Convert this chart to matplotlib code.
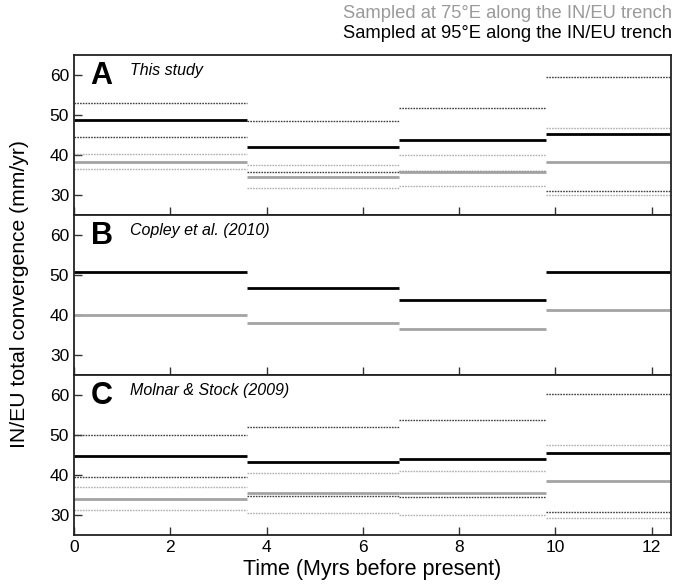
import matplotlib
matplotlib.use("Agg")
import matplotlib.pyplot as plt

plt.rcParams['font.family'] = ['Liberation Sans', 'DejaVu Sans']

# Age boundaries of the stage intervals (Myr)
stages = [0.0, 3.6, 6.75, 9.8, 12.4]

# This study: 95E / 75E means with upper and lower bounds
a_95 = [48.75, 42.0, 43.7, 45.2]
a_95_hi = [52.9, 48.5, 51.75, 59.5]
a_95_lo = [44.6, 35.7, 36.1, 31.1]
a_75 = [38.3, 34.5, 35.7, 38.25]
a_75_hi = [40.3, 37.5, 39.9, 46.8]
a_75_lo = [36.4, 31.8, 32.3, 30.1]

# Copley et al. (2010)
b_95 = [50.75, 46.8, 43.7, 50.7]
b_75 = [40.0, 38.0, 36.4, 41.2]

# Molnar & Stock (2009)
c_95 = [44.8, 43.25, 44.1, 45.4]
c_95_hi = [50.0, 51.9, 53.8, 60.2]
c_95_lo = [39.6, 34.7, 34.5, 30.8]
c_75 = [34.1, 35.5, 35.4, 38.4]
c_75_hi = [37.1, 40.4, 40.9, 47.6]
c_75_lo = [31.3, 30.6, 29.9, 29.3]

panels = [
    ("A", "This study", a_95, a_75, (a_95_hi, a_95_lo), (a_75_hi, a_75_lo)),
    ("B", "Copley et al. (2010)", b_95, b_75, None, None),
    ("C", "Molnar & Stock (2009)", c_95, c_75, (c_95_hi, c_95_lo), (c_75_hi, c_75_lo)),
]

GREY = "#a3a3a3"
fig = plt.figure(figsize=(6.87, 5.87), dpi=100)

left, width = 74 / 687, 597 / 687
h = 160 / 587
tops = [55, 215, 375]

axes = []
for i, (letter, name, m95, m75, b95, b75) in enumerate(panels):
    bottom = 1 - (tops[i] + 160) / 587
    ax = fig.add_axes([left, bottom, width, h])
    axes.append(ax)
    x0 = stages[:-1]
    x1 = stages[1:]
    if b75 is not None:
        for arr in b75:
            ax.hlines(arr, x0, x1, colors="#b0b0b0", linewidth=1.0, linestyles=(0, (1.2, 0.8)))
    if b95 is not None:
        for arr in b95:
            ax.hlines(arr, x0, x1, colors="#404040", linewidth=1.0, linestyles=(0, (1.2, 0.8)))
    ax.hlines(m75, x0, x1, colors=GREY, linewidth=2.0)
    ax.hlines(m95, x0, x1, colors="black", linewidth=2.0)

    ax.set_xlim(0, 12.4)
    ax.set_ylim(25, 65)
    ax.set_yticks([30, 40, 50, 60])
    ax.set_xticks(range(0, 13, 2))
    ax.tick_params(direction="in", length=6, width=1.0, labelsize=12.5, colors="#333333",
                   labelcolor="black", top=False, right=False)
    if i < 2:
        ax.tick_params(labelbottom=False)
    for s in ax.spines.values():
        s.set_linewidth(1.3)
        s.set_color("#222222")

    ax.text(0.028, 0.87, letter, transform=ax.transAxes, fontsize=22, fontweight="bold",
            va="center", ha="left")
    ax.text(0.094, 0.905, name, transform=ax.transAxes, fontsize=11.5, style="italic",
            va="center", ha="left")

axes[2].set_xlabel("Time (Myrs before present)", fontsize=15.5, labelpad=3)
fig.text(0.028, 1 - 294 / 587, "IN/EU total convergence (mm/yr)", rotation=90,
         fontsize=15.2, va="center", ha="center")

fig.text(672 / 687, 1 - 13 / 587, "Sampled at 75\u00b0E along the IN/EU trench",
         color="#9a9a9a", fontsize=13.2, ha="right", va="center")
fig.text(672 / 687, 1 - 34 / 587, "Sampled at 95\u00b0E along the IN/EU trench",
         color="black", fontsize=13.2, ha="right", va="center")

fig.savefig("out.png", dpi=100)
